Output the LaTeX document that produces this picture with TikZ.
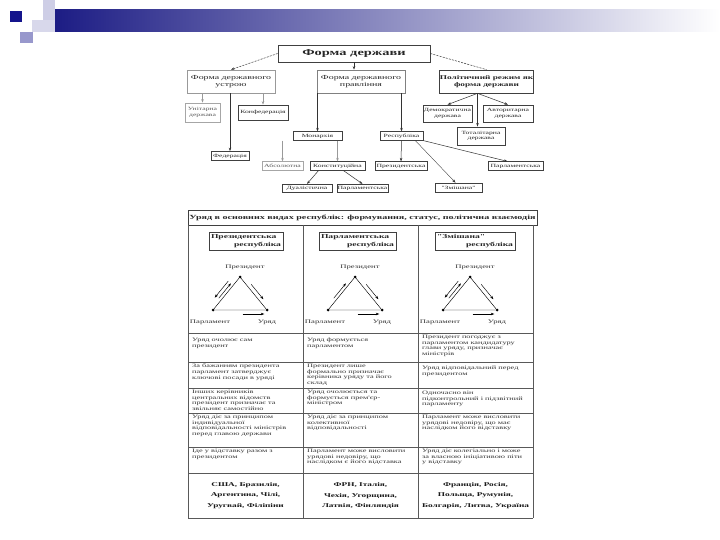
\documentclass[tikz,border=0pt]{standalone}
\usepackage{fontspec}
\setmainfont{Liberation Serif}
\newfontfamily\wide[FakeStretch=1.6]{Liberation Serif}
\usetikzlibrary{arrows.meta, calc}

\definecolor{navy}{RGB}{24,24,130}
\definecolor{lavdark}{RGB}{20,20,140}
\definecolor{lavmid}{RGB}{152,152,204}
\definecolor{lavlight}{RGB}{206,206,230}

\begin{document}
\begin{tikzpicture}[x=1pt, y=-1pt,
        >={Stealth[length=3.5pt, width=2.5pt]},
        % Styles
        box/.style={rectangle, draw=black!75, line width=0.7pt, fill=white, inner sep=0.5pt,
                align=center, text=black!85},
        lbox/.style={box, draw=black!35, text=black!65},
        bigfont/.style={font=\wide\bfseries\fontsize{9}{10}\selectfont},
        midfont/.style={font=\wide\fontsize{6.2}{7.4}\selectfont},
        smfont/.style={font=\wide\fontsize{4.8}{5.6}\selectfont},
        arrow/.style={->, black!80, line width=0.5pt},
        dasharrow/.style={arrow, dash pattern=on 2pt off 1.2pt},
        lgarrow/.style={arrow, black!40},
        dot/.style={circle, fill=black, inner sep=0pt, minimum size=3pt},
        trilab/.style={font=\wide\fontsize{5.4}{6}\selectfont, text=black!80, inner sep=0pt},
        tarrow/.style={->, black, line width=0.45pt},
        gridline/.style={black!65, line width=0.5pt},
        cell/.style={anchor=north west, align=left, inner sep=0pt, text=black!80,
                font=\wide\fontsize{5.2}{5.9}\selectfont},
        country/.style={align=center, inner sep=0pt, text=black!90,
                font=\wide\bfseries\fontsize{5.8}{10.5}\selectfont},
        headbox/.style={box, line width=0.8pt, align=left, inner sep=2pt,
                font=\wide\bfseries\fontsize{6}{7.5}\selectfont},
    ]

    \useasboundingbox (0,0) rectangle (720,540);
    \fill[white] (0,0) rectangle (720,540);

    % === SLIDE DECORATION ===
    \shade[left color=navy, right color=white] (43,10) rectangle (720,32);
    \fill[lavlight] (43,0) rectangle (55,20);
    \fill[lavlight!80] (32,20) rectangle (55,32);
    \fill[lavmid] (20,32) rectangle (33,43);
    \fill[lavdark] (10,11) rectangle (22,22);

    % === FORMA DERZHAVY (Top) ===
    \node[box, bigfont, minimum width=152pt, minimum height=17pt] (forma) at (354,53.5) {Форма держави};

    \node[box, midfont, draw=black!40, minimum width=88pt, minimum height=23pt] (ustrij) at (231,81.5) {Форма державного\\устрою};
    \node[box, midfont, draw=black!50, minimum width=88pt, minimum height=23pt] (pravl) at (361,81.5) {Форма державного\\правління};
    \node[box, font=\wide\bfseries\fontsize{5.8}{7.4}\selectfont, minimum width=93pt, minimum height=23pt] (rezhym) at (486.5,81.5) {Політичний режим як\\форма держави};

    % Ustrij
    \node[lbox, smfont, minimum width=35pt, minimum height=19pt] (unit) at (202.5,112.5) {Унітарна\\держава};
    \node[box, smfont, minimum width=50pt, minimum height=15pt] (konf) at (263,112.5) {Конфедерація};
    \node[box, smfont, minimum width=38pt, minimum height=9pt] (feder) at (230,156) {Федерація};

    % Pravlinnia
    \node[box, smfont, minimum width=49pt, minimum height=8.5pt] (monar) at (317.5,136) {Монархія};
    \node[box, smfont, minimum width=43pt, minimum height=8.5pt] (respub) at (401.5,136) {Республіка};
    \node[lbox, smfont, minimum width=41pt, minimum height=8.5pt] (absol) at (282.5,166) {Абсолютна};
    \node[box, smfont, minimum width=55pt, minimum height=8.5pt] (konst) at (337.5,166) {Конституційна};
    \node[box, smfont, minimum width=50pt, minimum height=8.5pt] (dual) at (307,188.5) {Дуалістична};
    \node[box, smfont, minimum width=51pt, minimum height=8.5pt] (parlm) at (362.5,188.5) {Парламентська};
    \node[box, smfont, minimum width=52pt, minimum height=8.5pt] (prezr) at (401,166) {Президентська};
    \node[box, smfont, minimum width=55pt, minimum height=8.5pt] (parlr) at (515.5,166) {Парламентська};
    \node[box, smfont, minimum width=47pt, minimum height=9pt] (zmish) at (458.5,187.5) {"Змішана"};

    % Rezhym
    \node[box, smfont, minimum width=49pt, minimum height=17pt] (demokr) at (447.5,113.5) {Демократична\\держава};
    \node[box, smfont, minimum width=50pt, minimum height=17pt] (avtor) at (508,113.5) {Авторитарна\\держава};
    \node[box, smfont, line width=0.9pt, minimum width=48pt, minimum height=18pt] (total) at (481,136) {Тоталітарна\\держава};

    % Top connections
    \draw[dasharrow] (forma.west) -- (ustrij.north);
    \draw[arrow, xshift=3pt] (forma.south) -- (forma.south |- pravl.north);
    \draw[dasharrow, -] (forma.east) -- (rezhym.north);

    \draw[lgarrow, xshift=4.5pt] (ustrij.south -| unit.north) -- (unit.north);
    \draw[lgarrow] (ustrij.south -| konf.north) -- (konf.north);
    \draw[arrow, xshift=-2pt] (ustrij.south -| feder.north) -- (feder.north);

    \draw[arrow, xshift=3.5pt] (pravl.south -| monar.north) -- (monar.north);
    \draw[arrow, xshift=-4.5pt] (pravl.south -| respub.north) -- (respub.north);
    \draw[lgarrow, xshift=16.5pt] (monar.south -| absol.north) -- (absol.north);
    \draw[lgarrow] (monar.south -| konst.north) -- (konst.north);
    \draw[arrow] ([xshift=-19pt]konst.south) -- (dual.north);
    \draw[arrow] ([xshift=6pt]konst.south) -- (parlm.north);

    \draw[arrow] (respub.south) -- (prezr.north);
    \draw[arrow] (respub.south east) -- ([xshift=-8pt]parlr.north);
    \draw[arrow, line width=0.35pt] ([xshift=-8pt]respub.south east) -- ([xshift=-3pt]zmish.north);

    \coordinate (rfork) at ([xshift=-9pt]rezhym.south);
    \draw[arrow] (rfork) -- (demokr.north);
    \draw[arrow] (rfork) -- (avtor.north);
    \draw[arrow] (rfork) -- (rfork |- total.north);

    % === URIAD (Bottom table) ===
    \node[box, line width=0.8pt, font=\wide\bfseries\fontsize{6.3}{7}\selectfont,
        minimum width=349pt, minimum height=15pt] (uriad) at (362.5,217.5)
        {Уряд в основних видах республік: формування, статус, політична взаємодія};

    % Grid
    \foreach \x in {188,303,418,533}
        \draw[gridline] (\x,225) -- (\x,518);
    \foreach \y in {333,362,388,413,447,473,518}
        \draw[gridline] (188,\y) -- (533,\y);

    % Headers
    \node[headbox, text width=70pt, minimum height=18pt] (hprez) at (246,241) {Президентська\\\hspace*{\fill}республіка};
    \node[headbox, text width=73pt, minimum height=18pt] (hparl) at (357.5,241) {Парламентська\\\hspace*{\fill}республіка};
    \node[headbox, text width=76pt, minimum height=18pt] (hzmish) at (475,241) {"Змішана"\\\hspace*{\fill}республіка};

    % Triangles
    \foreach \c/\xl in {a/188, b/303, c/418} {
        \node[dot] (top\c) at (\xl+52,277) {};
        \node[dot] (left\c) at (\xl+25,310) {};
        \node[dot] (right\c) at (\xl+79,310) {};
        \node[trilab] (lprez\c) at (\xl+57,267) {Президент};
        \node[trilab] (lparl\c) at (\xl+22,322) {Парламент};
        \node[trilab] (luriad\c) at (\xl+79,322) {Уряд};
        \draw[line width=0.45pt] (left\c) -- (top\c) -- (right\c) -- (left\c);
        \draw[tarrow] ($(top\c)!0.3!(right\c)!4pt!90:(right\c)$) -- ($(top\c)!0.75!(right\c)!4pt!90:(right\c)$);
        \draw[tarrow] ($(left\c)!0.55!(right\c)!4pt!-90:(right\c)$) -- ($(left\c)!0.95!(right\c)!4pt!-90:(right\c)$);
        \draw[tarrow] ($(left\c)!0.3!(top\c)!3pt!90:(top\c)$) -- ($(left\c)!0.75!(top\c)!3pt!90:(top\c)$);
    }
    % Back arrows (President <-> Parliament)
    \draw[tarrow] ($(lefta)!0.75!(topa)!6.5pt!90:(topa)$) -- ($(lefta)!0.25!(topa)!6.5pt!90:(topa)$);
    \draw[tarrow] ($(leftc)!0.75!(topc)!6.5pt!90:(topc)$) -- ($(leftc)!0.25!(topc)!6.5pt!90:(topc)$);

    % Column 1: presidential
    \node[cell] (p1) at (192,338) {Уряд очолює сам\\президент};
    \node[cell] (p2) at (192,363.5) {За бажанням президента\\парламент затверджує\\ключові посади в уряді};
    \node[cell] (p3) at (192,389.5) {Інших керівників\\центральних відомств\\президент призначає та\\звільняє самостійно};
    \node[cell] (p4) at (192,414.5) {Уряд діє за принципом\\індивідуальної\\відповідальності міністрів\\перед главою держави};
    \node[cell] (p5) at (192,448.5) {Іде у відставку разом з\\президентом};
    \node[country] (p6) at (245.5,495.5) {США, Бразилія,\\Аргентина, Чілі,\\Уругвай, Філіпіни};

    % Column 2: parliamentary
    \node[cell] (m1) at (307,338) {Уряд формується\\парламентом};
    \node[cell] (m2) at (307,363.5) {Президент лише\\формально призначає\\керівника уряду та його\\склад};
    \node[cell] (m3) at (307,389.5) {Уряд очолюється та\\формується прем'єр-\\міністром};
    \node[cell] (m4) at (307,414.5) {Уряд діє за принципом\\колективної\\відповідальності};
    \node[cell] (m5) at (307,448.5) {Парламент може висловити\\урядові недовіру, що\\наслідком є його відставка};
    \node[country] (m6) at (360.5,495.5) {ФРН, Італія,\\Чехія, Угорщина,\\Латвія, Фінляндія};

    % Column 3: mixed
    \node[cell] (z1) at (422,334.5) {Президент погоджує з\\парламентом кандидатуру\\глави уряду, призначає\\міністрів};
    \node[cell] (z2) at (422,366) {Уряд відповідальний перед\\президентом};
    \node[cell] (z3) at (422,390.5) {Одночасно він\\підконтрольний і підзвітний\\парламенту};
    \node[cell] (z4) at (422,414.5) {Парламент може висловити\\урядові недовіру, що має\\наслідком його відставку};
    \node[cell] (z5) at (422,448.5) {Уряд діє колегіально і може\\за власною ініціативою піти\\у відставку};
    \node[country] (z6) at (475.5,495.5) {Франція, Росія,\\Польща, Румунія,\\Болгарія, Литва, Україна};

\end{tikzpicture}
\end{document}
